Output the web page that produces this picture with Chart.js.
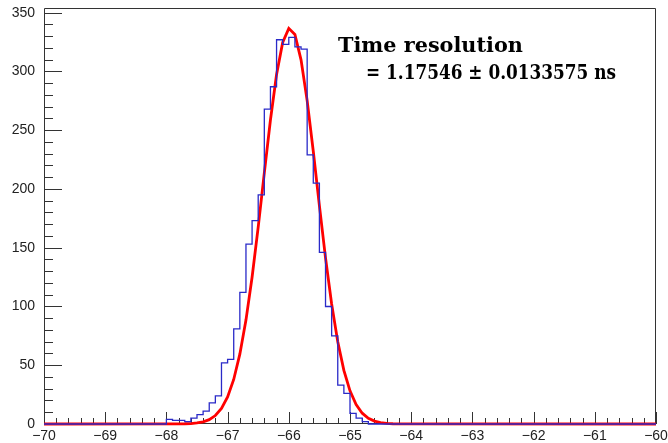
<!DOCTYPE html>
<html>
<head>
<meta charset="utf-8">
<script src="https://cdn.jsdelivr.net/npm/chart.js@4.4.1/dist/chart.umd.min.js"></script>
<style>
	html, body { margin: 0; padding: 0; background: #fff; }
	#wrap { width: 668px; height: 443px; }
</style>
</head>
<body>
<div id="wrap"><canvas id="timeResChart" width="668" height="443"></canvas></div>
<script>
// histogram, 0.1 ns bins; only the non-empty region is listed, from -68.0 up
const binWidth = 0.1;
const histFirstEdge = -68.0;
const histCounts = [
	0, 4, 3, 3, 2, 5, 8, 11, 18, 24,
	52, 55, 81, 112, 153, 173, 195, 268, 287, 327,
	323, 329, 321, 319, 229, 205, 146, 100, 75, 33,
	26, 9, 5, 2, 0
];

// gaussian fit curve as drawn, sampled every 0.1 starting at -67.7
const fitFirstX = -67.7;
const fitStep = 0.1;
const fitValues = [
	0.2, 0.4, 0.9, 1.8, 3.7, 7.2, 13.2, 23.0, 37.9, 59.4,
	88.4, 124.9, 167.6, 213.7, 258.7, 297.4, 324.7, 336.7, 331.5, 309.9,
	275.2, 232.1, 185.9, 141.4, 102.1, 70.0, 45.6, 28.2, 16.6, 9.2,
	4.9, 2.5, 1.2, 0.5, 0.2
];

const xTickValues = [-70, -69, -68, -67, -66, -65, -64, -63, -62, -61, -60];
const yTickValues = [0, 50, 100, 150, 200, 250, 300, 350];
const resultLines = ['Time resolution', '= 1.17546 \u00b1 0.0133575 ns'];

const X_MIN = -70, X_MAX = -60, Y_MAX = 354;

function round1(v) {
	return Math.round(v * 10) / 10;
}

function histPoints() {
	const pts = [{ x: X_MIN, y: 0 }];
	histCounts.forEach((c, i) => pts.push({ x: round1(histFirstEdge + i * binWidth), y: c }));
	pts.push({ x: round1(histFirstEdge + histCounts.length * binWidth), y: 0 });
	pts.push({ x: X_MAX, y: 0 });
	return pts;
}

function fitPoints() {
	const pts = [{ x: X_MIN, y: 0 }];
	fitValues.forEach((v, i) => pts.push({ x: round1(fitFirstX + i * fitStep), y: v }));
	pts.push({ x: X_MAX, y: 0 });
	return pts;
}

function minusLabel(v) {
	return v < 0 ? '\u2212' + Math.abs(v) : String(v);
}

// ROOT-like frame with ticks pointing inside
const frameTicks = {
	id: 'frameTicks',
	beforeDatasetsDraw(chart) {
		const { ctx, chartArea: a, scales: { x, y } } = chart;
		ctx.save();
		ctx.strokeStyle = '#333';
		ctx.lineWidth = 1;
		ctx.beginPath();
		ctx.rect(a.left + 0.5, a.top + 0.5, a.right - a.left - 1, a.bottom - a.top - 1);
		for (let i = 0; i <= 50; i++) {
			const px = Math.round(x.getPixelForValue(X_MIN + i * 0.2)) + 0.5;
			const len = i % 5 === 0 ? 12 : 6;
			ctx.moveTo(px, a.bottom);
			ctx.lineTo(px, a.bottom - len);
		}
		for (let v = 0; v <= Y_MAX; v += 10) {
			const py = Math.round(y.getPixelForValue(v)) + 0.5;
			const len = v % 50 === 0 ? 18 : 9;
			ctx.moveTo(a.left, py);
			ctx.lineTo(a.left + len, py);
		}
		ctx.stroke();
		ctx.restore();
	}
};

// draws a line of text squeezed/stretched to a given width
function fitText(ctx, text, x, y, width) {
	const w = ctx.measureText(text).width;
	ctx.save();
	ctx.translate(x, y);
	ctx.scale(width / w, 1);
	ctx.fillText(text, 0, 0);
	ctx.restore();
}

const resultText = {
	id: 'resultText',
	afterDraw(chart) {
		const ctx = chart.ctx;
		ctx.save();
		let size = 20;
		ctx.font = `bold ${size}px "DejaVu Serif"`;
		size = size * 185 / ctx.measureText(resultLines[0]).width;
		ctx.font = `bold ${size.toFixed(2)}px "DejaVu Serif"`;
		ctx.fillStyle = '#000';
		ctx.textBaseline = 'alphabetic';
		ctx.fillText(resultLines[0], 338, 52);
		fitText(ctx, resultLines[1], 366, 79, 250);
		ctx.restore();
	}
};

const tickFont = { family: '"Liberation Sans", Arial, sans-serif', size: 14 };

new Chart(document.getElementById('timeResChart'), {
	type: 'line',
	data: {
		datasets: [
			{
				label: 'histogram',
				data: histPoints(),
				stepped: 'after',
				borderColor: '#2a2ac8',
				borderWidth: 1.3,
				pointRadius: 0,
				fill: false,
				clip: false,
			},
			{
				label: 'fit',
				data: fitPoints(),
				borderColor: '#ff0000',
				borderWidth: 2.8,
				pointRadius: 0,
				tension: 0,
				fill: false,
				clip: false,
			}
		]
	},
	options: {
		responsive: false,
		animation: false,
		devicePixelRatio: 1,
		layout: { padding: { top: 8, right: 12, left: 0, bottom: 0 } },
		plugins: {
			legend: { display: false },
			tooltip: { enabled: false },
		},
		scales: {
			x: {
				type: 'linear',
				min: X_MIN,
				max: X_MAX,
				grid: { display: false, drawTicks: false },
				border: { display: false },
				afterBuildTicks: (scale) => { scale.ticks = xTickValues.map(v => ({ value: v })); },
				afterFit: (scale) => { scale.height = 19; scale.paddingLeft = 0; scale.paddingRight = 0; },
				ticks: {
					autoSkip: false,
					maxRotation: 0,
					padding: 4,
					color: '#222',
					font: tickFont,
					callback: (v) => minusLabel(v),
				}
			},
			y: {
				type: 'linear',
				min: 0,
				max: Y_MAX,
				grid: { display: false, drawTicks: false },
				border: { display: false },
				afterBuildTicks: (scale) => { scale.ticks = yTickValues.map(v => ({ value: v })); },
				afterFit: (scale) => { scale.width = 44; scale.paddingTop = 0; scale.paddingBottom = 0; },
				ticks: {
					padding: 9,
					color: '#222',
					font: tickFont,
					callback: (v) => String(v),
				}
			}
		}
	},
	plugins: [frameTicks, resultText]
});
</script>
</body>
</html>
